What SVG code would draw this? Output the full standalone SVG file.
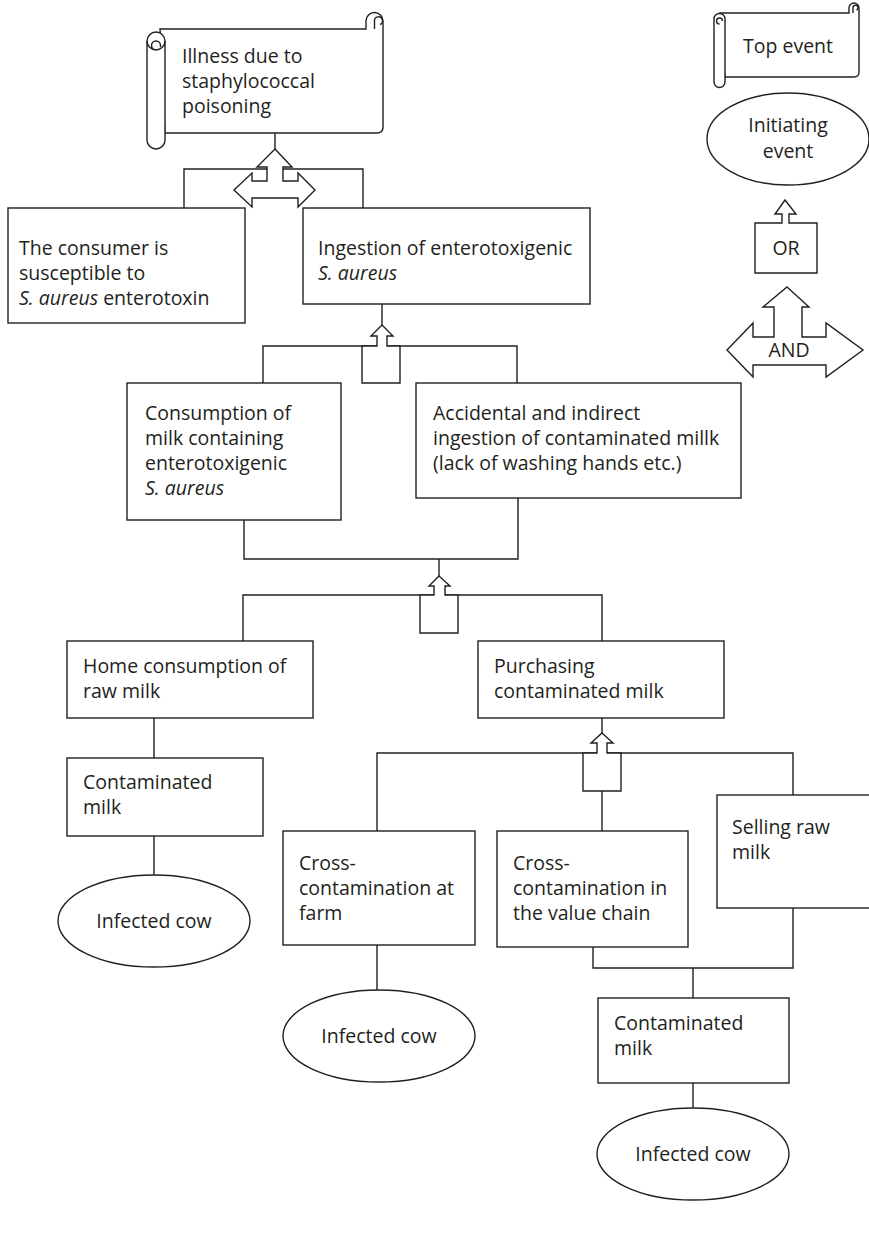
<svg xmlns="http://www.w3.org/2000/svg" width="869" height="1233" viewBox="0 0 869 1233">
  <style>
    .ln { fill: none; stroke: #231f20; stroke-width: 1.4; }
    .box { fill: #ffffff; stroke: #231f20; stroke-width: 1.4; }
    .gate { fill: #ffffff; stroke: #231f20; stroke-width: 1.4; stroke-linejoin: miter; }
    text { font-family: "Open Sans", "Noto Sans", "Liberation Sans", sans-serif; font-size: 19.5px; fill: #231f20; }
    .mid { text-anchor: middle; }
    .it { font-style: italic; }
  </style>
  <rect width="869" height="1233" fill="#ffffff"/>

  <!-- connectors -->
  <g id="connectors" class="ln">
    <path d="M275,133 V150"/>
    <path d="M184,208 V169 H363 V208"/>
    <path d="M382,304 V326"/>
    <path d="M263,383 V346 H517 V383"/>
    <path d="M244,520 V559 H518 V498"/>
    <path d="M439,559 V577"/>
    <path d="M243,641 V595 H602 V641"/>
    <path d="M154,718 V758"/>
    <path d="M154,836 V875"/>
    <path d="M602,718 V734"/>
    <path d="M377,831 V753 H793 V795"/>
    <path d="M602,790 V831"/>
    <path d="M377,945 V990"/>
    <path d="M593,947 V968 H793 V908"/>
    <path d="M693,968 V998"/>
    <path d="M693,1083 V1108"/>
  </g>

  <!-- gates -->
  <g id="gate-top">
    <polygon class="gate" points="275,149 292,167 283,167 283,181 298,181 298,173 315,190 298,207 298,198 252,198 252,207 234,190 252,173 252,181 267,181 267,167 257,167"/>
  </g>
  <g id="gate-ingestion">
    <polygon class="gate" points="382,325 393,336 387,336 387,346 400,346 400,383 362,383 362,346 377,346 377,336 371,336"/>
  </g>
  <g id="gate-consumption">
    <polygon class="gate" points="439,576 450,586 445,586 445,595 458,595 458,633 420,633 420,595 434,595 434,586 429,586"/>
  </g>
  <g id="gate-purchasing">
    <polygon class="gate" points="602,733 613,743 607,743 607,753 621,753 621,791 583,791 583,753 597,753 597,743 591,743"/>
  </g>

  <!-- top event: scroll -->
  <g id="top-event">
    <path class="box" d="M160,29 H366 V21 A8.5,8.5 0 0 1 383,21 V127 Q383,133 377,133 H165 Z"/>
    <path class="box" d="M147,41 A9,9 0 0 1 165,41 V140 A9,9 0 0 1 147,140 Z"/>
    <path class="ln" d="M156,50 A4.5,4.5 0 1 1 160.5,45.5 V47 M147,41 A9,9 0 0 0 165,41"/>
    <path class="ln" d="M374.5,29 V21 A4,4 0 1 1 380,24.5"/>
    <text x="182" y="63">Illness due to</text>
    <text x="182" y="88">staphylococcal</text>
    <text x="182" y="113">poisoning</text>
  </g>

  <!-- first level -->
  <g id="consumer-susceptible">
    <rect class="box" x="8" y="208" width="237" height="115"/>
    <text x="19" y="255">The consumer is</text>
    <text x="19" y="280">susceptible to</text>
    <text x="19" y="305"><tspan class="it">S. aureus</tspan> enterotoxin</text>
  </g>
  <g id="ingestion">
    <rect class="box" x="303" y="208" width="287" height="96"/>
    <text x="318" y="255">Ingestion of enterotoxigenic</text>
    <text x="318" y="280" class="it">S. aureus</text>
  </g>

  <!-- second level -->
  <g id="milk-consumption">
    <rect class="box" x="127" y="383" width="214" height="137"/>
    <text x="145" y="420">Consumption of</text>
    <text x="145" y="445">milk containing</text>
    <text x="145" y="470">enterotoxigenic</text>
    <text x="145" y="495" class="it">S. aureus</text>
  </g>
  <g id="accidental-ingestion">
    <rect class="box" x="416" y="383" width="325" height="115"/>
    <text x="433" y="420">Accidental and indirect</text>
    <text x="433" y="445">ingestion of contaminated millk</text>
    <text x="433" y="470">(lack of washing hands etc.)</text>
  </g>

  <!-- third level -->
  <g id="home-consumption">
    <rect class="box" x="67" y="641" width="246" height="77"/>
    <text x="83" y="673">Home consumption of</text>
    <text x="83" y="698">raw milk</text>
  </g>
  <g id="purchasing">
    <rect class="box" x="478" y="641" width="246" height="77"/>
    <text x="494" y="673">Purchasing</text>
    <text x="494" y="698">contaminated milk</text>
  </g>
  <g id="contaminated-milk-home">
    <rect class="box" x="67" y="758" width="196" height="78"/>
    <text x="83" y="789">Contaminated</text>
    <text x="83" y="814">milk</text>
  </g>
  <g id="infected-cow-home">
    <ellipse class="box" cx="154" cy="921" rx="96" ry="46"/>
    <text x="154" y="928" class="mid">Infected cow</text>
  </g>

  <!-- purchasing branch -->
  <g id="cross-farm">
    <rect class="box" x="283" y="831" width="192" height="114"/>
    <text x="299" y="870">Cross-</text>
    <text x="299" y="895">contamination at</text>
    <text x="299" y="920">farm</text>
  </g>
  <g id="cross-chain">
    <rect class="box" x="497" y="831" width="191" height="116"/>
    <text x="513" y="870">Cross-</text>
    <text x="513" y="895">contamination in</text>
    <text x="513" y="920">the value chain</text>
  </g>
  <g id="selling-raw">
    <rect class="box" x="717" y="795" width="160" height="113"/>
    <text x="732" y="834">Selling raw</text>
    <text x="732" y="859">milk</text>
  </g>
  <g id="infected-cow-farm">
    <ellipse class="box" cx="379" cy="1036" rx="96" ry="46"/>
    <text x="379" y="1043" class="mid">Infected cow</text>
  </g>
  <g id="contaminated-milk-chain">
    <rect class="box" x="598" y="998" width="191" height="85"/>
    <text x="614" y="1030">Contaminated</text>
    <text x="614" y="1055">milk</text>
  </g>
  <g id="infected-cow-chain">
    <ellipse class="box" cx="693" cy="1154" rx="96" ry="46"/>
    <text x="693" y="1161" class="mid">Infected cow</text>
  </g>

  <!-- legend -->
  <g id="legend-top-event">
    <path class="box" d="M720,13 H849 V8 A5,5 0 0 1 859,8 V72 Q859,77 854,77 H725 Z"/>
    <path class="box" d="M714,19 A5.5,5.5 0 0 1 725,19 V82 A5.5,5.5 0 0 1 714,82 Z"/>
    <path class="ln" d="M719.5,24 A3,3 0 1 1 722.5,21"/>
    <path class="ln" d="M853,13 V8 A2.5,2.5 0 1 1 856.5,10"/>
    <text x="743" y="53">Top event</text>
  </g>
  <g id="legend-initiating">
    <ellipse class="box" cx="788" cy="139" rx="81" ry="46"/>
    <text x="788" y="132" class="mid">Initiating</text>
    <text x="788" y="158" class="mid">event</text>
  </g>
  <g id="legend-or">
    <polygon class="gate" points="785,200 796,214 789,214 789,223 817,223 817,273 755,273 755,223 782,223 782,214 775,214"/>
    <text x="786" y="255" class="mid">OR</text>
  </g>
  <g id="legend-and">
    <polygon class="gate" points="787,287 809,307 802,307 802,337 826,337 826,323 863,350 826,377 826,365 753,365 753,377 727,350 753,323 753,337 774,337 774,307 763,307"/>
    <text x="789" y="357" class="mid">AND</text>
  </g>
</svg>
